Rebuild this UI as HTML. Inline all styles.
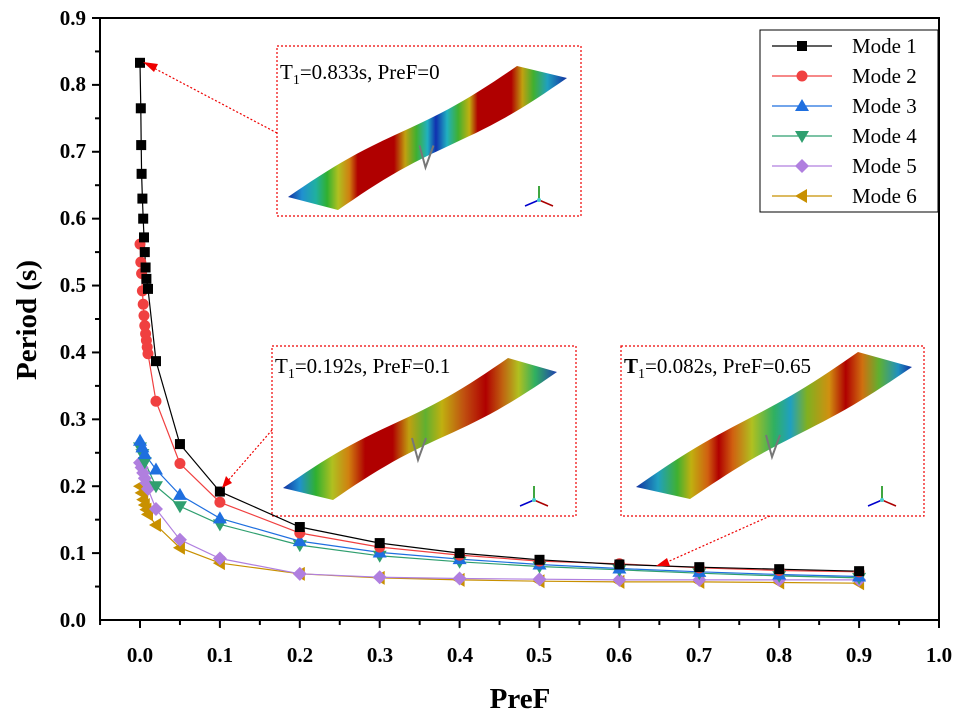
<!DOCTYPE html>
<html><head><meta charset="utf-8"><style>
html,body{margin:0;padding:0;background:#fff;}
svg{display:block;font-family:"Liberation Serif",serif;}
</style></head><body>
<svg id="s" width="959" height="721" viewBox="0 0 959 721" xmlns="http://www.w3.org/2000/svg">
<defs>
<linearGradient id="g1" gradientUnits="userSpaceOnUse" x1="288" y1="0" x2="567" y2="0">
<stop offset="0" stop-color="#1030a0"/><stop offset="0.05" stop-color="#2090d0"/><stop offset="0.1" stop-color="#20b0a0"/><stop offset="0.14" stop-color="#30b030"/><stop offset="0.18" stop-color="#b0c020"/><stop offset="0.22" stop-color="#d08010"/><stop offset="0.25" stop-color="#b00000"/><stop offset="0.38" stop-color="#b00000"/><stop offset="0.42" stop-color="#c0a010"/><stop offset="0.46" stop-color="#40b030"/><stop offset="0.5" stop-color="#20b0c0"/><stop offset="0.53" stop-color="#1030b0"/><stop offset="0.57" stop-color="#20b0c0"/><stop offset="0.61" stop-color="#40b030"/><stop offset="0.65" stop-color="#c0b010"/><stop offset="0.68" stop-color="#b00000"/><stop offset="0.8" stop-color="#b00000"/><stop offset="0.84" stop-color="#c0a010"/><stop offset="0.88" stop-color="#40b030"/><stop offset="0.93" stop-color="#20a0c0"/><stop offset="1" stop-color="#1030a0"/>
</linearGradient>
<linearGradient id="g2" gradientUnits="userSpaceOnUse" x1="283" y1="0" x2="557" y2="0">
<stop offset="0" stop-color="#1030a0"/><stop offset="0.06" stop-color="#2090d0"/><stop offset="0.12" stop-color="#30b030"/><stop offset="0.18" stop-color="#b0c020"/><stop offset="0.24" stop-color="#d08010"/><stop offset="0.3" stop-color="#b00000"/><stop offset="0.4" stop-color="#b00000"/><stop offset="0.46" stop-color="#c0a010"/><stop offset="0.52" stop-color="#60b030"/><stop offset="0.58" stop-color="#c0b010"/><stop offset="0.66" stop-color="#c05010"/><stop offset="0.74" stop-color="#b00000"/><stop offset="0.8" stop-color="#c06010"/><stop offset="0.86" stop-color="#b0c020"/><stop offset="0.92" stop-color="#30b060"/><stop offset="1" stop-color="#2040b0"/>
</linearGradient>
<linearGradient id="g3" gradientUnits="userSpaceOnUse" x1="636" y1="0" x2="912" y2="0">
<stop offset="0" stop-color="#1030a0"/><stop offset="0.08" stop-color="#20a0c0"/><stop offset="0.15" stop-color="#40b030"/><stop offset="0.2" stop-color="#c0b010"/><stop offset="0.26" stop-color="#d06010"/><stop offset="0.3" stop-color="#b00000"/><stop offset="0.35" stop-color="#d06010"/><stop offset="0.42" stop-color="#b0c020"/><stop offset="0.5" stop-color="#30b060"/><stop offset="0.56" stop-color="#20a0c0"/><stop offset="0.62" stop-color="#80b020"/><stop offset="0.7" stop-color="#d09010"/><stop offset="0.76" stop-color="#b00000"/><stop offset="0.82" stop-color="#d07010"/><stop offset="0.88" stop-color="#60b030"/><stop offset="0.95" stop-color="#2090c0"/><stop offset="1" stop-color="#1030a0"/>
</linearGradient>
</defs>
<rect x="100" y="18" width="839" height="602" fill="none" stroke="#000" stroke-width="2"/>
<g id="ticks" stroke="#000" stroke-width="2"></g>
<g font-size="21" font-weight="bold" text-anchor="end">
<text x="86" y="627">0.0</text><text x="86" y="560">0.1</text><text x="86" y="493">0.2</text><text x="86" y="426">0.3</text><text x="86" y="359">0.4</text><text x="86" y="292">0.5</text><text x="86" y="225">0.6</text><text x="86" y="158">0.7</text><text x="86" y="91">0.8</text><text x="86" y="25">0.9</text>
</g>
<g font-size="21" font-weight="bold" text-anchor="middle">
<text x="140" y="662">0.0</text><text x="220" y="662">0.1</text><text x="300" y="662">0.2</text><text x="380" y="662">0.3</text><text x="460" y="662">0.4</text><text x="539" y="662">0.5</text><text x="619" y="662">0.6</text><text x="699" y="662">0.7</text><text x="779" y="662">0.8</text><text x="859" y="662">0.9</text><text x="939" y="662">1.0</text>
</g>
<text x="520" y="708" font-size="29" font-weight="bold" text-anchor="middle">PreF</text>
<text transform="translate(36,320) rotate(-90)" font-size="29" font-weight="bold" text-anchor="middle">Period (s)</text>

<g id="insets"></g>
<g id="series"></g>

<rect x="760" y="30" width="178" height="182" fill="#fff" stroke="#000" stroke-width="1"/>
<g font-size="21">
<text x="852" y="53">Mode 1</text><text x="852" y="83">Mode 2</text><text x="852" y="113">Mode 3</text><text x="852" y="143">Mode 4</text><text x="852" y="173">Mode 5</text><text x="852" y="203">Mode 6</text>
</g>
<g id="leg"></g>

<g font-size="21">
<text x="280" y="79">T<tspan font-size="14" dy="5">1</tspan><tspan dy="-5">=0.833s, PreF=0</tspan></text>
<text x="275" y="373">T<tspan font-size="14" dy="5">1</tspan><tspan dy="-5">=0.192s, PreF=0.1</tspan></text>
<text x="624" y="373"><tspan font-weight="bold">T</tspan><tspan font-size="14" dy="5">1</tspan><tspan dy="-5">=0.082s, PreF=0.65</tspan></text>
</g>
<g fill="none" stroke="#e00" stroke-width="1.2" stroke-dasharray="2,2">
<line x1="277" y1="133" x2="150" y2="66"/>
<line x1="272" y1="430" x2="226" y2="483"/>
<line x1="770" y1="516" x2="665" y2="563"/>
</g>
<g fill="#e00">
<polygon points="143,62 158,64 154,72"/>
<polygon points="222,488 226,476 232,483"/>
<polygon points="656,566 667,558 670,566"/>
</g>
</svg>
<script>
var NS="http://www.w3.org/2000/svg";
function X(v){return 140+799*v;} function Y(v){return 620-668.9*v;}
function el(t,a,p){var e=document.createElementNS(NS,t);for(var k in a)e.setAttribute(k,a[k]);p.appendChild(e);return e;}
var tk=document.getElementById('ticks');
for(var i=-1;i<=20;i++){var x=X(i*0.05);var L=i%2==0?8:5;el('line',{x1:x,y1:620,x2:x,y2:620+L},tk);}
for(var i=1;i<=18;i++){var y=Y(i*0.05);var L=i%2==0?8:5;el('line',{x1:100,y1:y,x2:100-L,y2:y},tk);}
var ins=document.getElementById('insets');
function inset(bx,by,bw,bh,grad,L0,L1,R0,R1,wob){
 el('rect',{x:bx,y:by,width:bw,height:bh,fill:'#fff',stroke:'#e00','stroke-width':1.2,'stroke-dasharray':'2,2'},ins);
 var top=[],bot=[],n=30;
 for(var i=0;i<=n;i++){var t=i/n,w=wob*Math.sin(t*Math.PI*2);
  top.push([L0[0]+(R0[0]-L0[0])*t,L0[1]+(R0[1]-L0[1])*t+w]);
  bot.push([L1[0]+(R1[0]-L1[0])*t,L1[1]+(R1[1]-L1[1])*t+w]);}
 var pts=top.concat(bot.reverse()).map(function(p){return p[0].toFixed(1)+','+p[1].toFixed(1)}).join(' ');
 el('polygon',{points:pts,fill:'url(#'+grad+')'},ins);
 var mx=(L0[0]+R1[0])/2,my=(L0[1]+R1[1])/2+8;
 el('polyline',{points:(mx-8)+','+(my)+' '+(mx-2)+','+(my+22)+' '+(mx+6)+','+my,fill:'none',stroke:'#777','stroke-width':2},ins);
 var ax=bx+bw-42,ay=by+bh-16;
 el('line',{x1:ax,y1:ay,x2:ax,y2:ay-14,stroke:'#080','stroke-width':1.5},ins);
 el('line',{x1:ax,y1:ay,x2:ax+14,y2:ay+6,stroke:'#a00','stroke-width':1.5},ins);
 el('line',{x1:ax,y1:ay,x2:ax-14,y2:ay+6,stroke:'#00c','stroke-width':1.5},ins);
 el('circle',{cx:ax,cy:ay,r:2,fill:'#4cc'},ins);
}
inset(277,46,304,170,'g1',[288,197],[338,210],[517,66],[567,78],-4);
inset(272,346,304,170,'g2',[283,488],[333,500],[508,358],[557,372],-4);
inset(621,346,303,170,'g3',[636,487],[690,499],[858,352],[912,367],-3);
var S=[
{c:'#000',m:'sq',d:[[0,.833],[.001,.765],[.0015,.71],[.002,.667],[.003,.63],[.004,.6],[.005,.572],[.006,.55],[.007,.527],[.008,.51],[.01,.495],[.02,.387],[.05,.263],[.1,.192],[.2,.139],[.3,.115],[.4,.1],[.5,.09],[.6,.083],[.7,.079],[.8,.076],[.9,.073]]},
{c:'#f04040',m:'ci',d:[[0,.562],[.001,.535],[.002,.518],[.003,.492],[.004,.472],[.005,.455],[.006,.44],[.007,.428],[.008,.418],[.009,.408],[.01,.398],[.02,.327],[.05,.234],[.1,.176],[.2,.13],[.3,.109],[.4,.097],[.5,.088],[.6,.084],[.7,.078],[.8,.074],[.9,.072]]},
{c:'#1f6fdf',m:'tu',d:[[0,.268],[.003,.258],[.006,.248],[.02,.225],[.05,.187],[.1,.152],[.2,.118],[.3,.101],[.4,.091],[.5,.083],[.6,.077],[.7,.072],[.8,.068],[.9,.065]]},
{c:'#2f9f6f',m:'td',d:[[0,.258],[.003,.248],[.006,.236],[.02,.2],[.05,.17],[.1,.143],[.2,.112],[.3,.096],[.4,.087],[.5,.08],[.6,.075],[.7,.07],[.8,.066],[.9,.063]]},
{c:'#b07fdf',m:'di',d:[[0,.235],[.002,.228],[.004,.22],[.006,.212],[.008,.205],[.01,.196],[.02,.166],[.05,.12],[.1,.092],[.2,.069],[.3,.064],[.4,.062],[.5,.061],[.6,.06],[.7,.06],[.8,.06],[.9,.06]]},
{c:'#c89000',m:'tl',d:[[0,.2],[.002,.19],[.004,.18],[.006,.172],[.008,.165],[.01,.158],[.02,.142],[.05,.108],[.1,.085],[.2,.069],[.3,.063],[.4,.06],[.5,.058],[.6,.057],[.7,.057],[.8,.056],[.9,.055]]}];
var sg=document.getElementById('series');
function mk(m,x,y,c,g){
 if(m=='sq')el('rect',{x:x-5,y:y-5,width:10,height:10,fill:c},g);
 else if(m=='ci')el('circle',{cx:x,cy:y,r:5.5,fill:c},g);
 else if(m=='tu')el('polygon',{points:(x)+','+(y-7)+' '+(x-7)+','+(y+5)+' '+(x+7)+','+(y+5),fill:c},g);
 else if(m=='td')el('polygon',{points:(x)+','+(y+7)+' '+(x-7)+','+(y-5)+' '+(x+7)+','+(y-5),fill:c},g);
 else if(m=='di')el('polygon',{points:x+','+(y-7)+' '+(x+7)+','+y+' '+x+','+(y+7)+' '+(x-7)+','+y,fill:c},g);
 else el('polygon',{points:(x-7)+','+y+' '+(x+5)+','+(y-7)+' '+(x+5)+','+(y+7),fill:c},g);
}
S.slice().reverse().forEach(function(s){
 el('polyline',{points:s.d.map(function(p){return X(p[0]).toFixed(1)+','+Y(p[1]).toFixed(1)}).join(' '),fill:'none',stroke:s.c,'stroke-width':1.2},sg);
});
S.slice().reverse().forEach(function(s){s.d.forEach(function(p){mk(s.m,X(p[0]),Y(p[1]),s.c,sg);});});
var lg=document.getElementById('leg');
S.forEach(function(s,i){var y=46+30*i;el('line',{x1:772,y1:y,x2:832,y2:y,stroke:s.c,'stroke-width':1.2},lg);mk(s.m,802,y,s.c,lg);});
</script>
</body></html>
